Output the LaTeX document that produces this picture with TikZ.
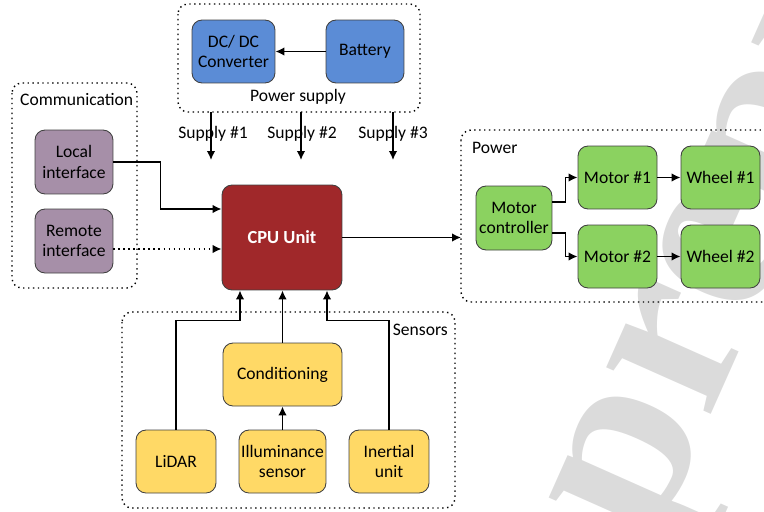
\documentclass[tikz,border=0pt]{standalone}
\usepackage{fontspec}
\setmainfont{Carlito}
\newfontfamily\wmfont{Liberation Serif}
\usetikzlibrary{positioning,calc,arrows.meta}

\definecolor{psblue}{RGB}{91,140,214}
\definecolor{cpured}{RGB}{160,40,42}
\definecolor{compurple}{RGB}{166,143,168}
\definecolor{pwrgreen}{RGB}{139,210,96}
\definecolor{sensyellow}{RGB}{255,217,102}

\tikzset{
  blk/.style={draw=black!75, rounded corners=0.2cm, align=center, inner sep=1pt, line width=0.5pt, minimum height=1.26cm},
  grp/.style={draw, dotted, line width=0.8pt, rounded corners=0.2cm},
  arr/.style={-{Latex[length=1.8mm,width=1.7mm]}, line width=0.85pt},
}

\begin{document}
\begin{tikzpicture}[x=0.02cm, y=-0.02cm, font=\fontsize{10}{11.5}\selectfont]
\useasboundingbox (0,0) rectangle (764,511);
\clip (0,0) rectangle (764,511);

% watermark
\node [anchor=base west, rotate=66, inner sep=0, text=black!14, font=\wmfont\bfseries\fontsize{142}{150}\selectfont] (wm) at (652,548) {preprint};

% groups
\draw [grp] (178,4) rectangle (420,112);
\node (pslbl) at (298,97) {Power supply};
\draw [grp] (12,83) rectangle (137,288);
\node [anchor=west] (comlbl) at (14,99) {Communication};
\draw [grp] (461,130) rectangle (790,302);
\node [anchor=west] (pwrlbl) at (466,148) {Power};
\coordinate (pwrw) at (461,238);
\draw [grp] (122,312) rectangle (455,508);
\node [anchor=east] (senslbl) at (454,330) {Sensors};

% power supply
\node [blk, fill=psblue, minimum width=1.66cm] (conv) at (233.5,51.5) {DC/ DC\\Converter};
\node [blk, fill=psblue, minimum width=1.56cm] (bat) at (365,51.5) {Battery};
\draw [arr] (bat) -- (conv);

\node (sup1) at (213,134) {Supply \#1};
\node (sup2) at (302,134) {Supply \#2};
\node (sup3) at (393,134) {Supply \#3};
\foreach \i/\x in {1/211,2/301,3/393} {
  \coordinate (s\i a) at (\x,112);
  \coordinate (s\i b) at (\x,160);
  \draw [arr] (s\i a) -- (s\i b);
}

% cpu
\node [blk, fill=cpured, text=white, font=\fontsize{10.5}{12}\selectfont\bfseries, minimum width=2.4cm, minimum height=2.1cm] (cpu) at (282,237.5) {CPU Unit};
\coordinate (cpuin1) at ($(cpu.west)+(0,-28.5)$);
\coordinate (cpuin2) at ($(cpu.west)+(0,11.5)$);
\coordinate (cpuinL) at ($(cpu.south)+(-42,0)$);
\coordinate (cpuinR) at ($(cpu.south)+(45,0)$);

% communication
\node [blk, fill=compurple, minimum width=1.56cm, minimum height=1.28cm] (local) at (74,162) {Local\\interface};
\node [blk, fill=compurple, minimum width=1.56cm, minimum height=1.28cm] (remote) at (74,241) {Remote\\interface};
\draw [arr] (local.east) -- ++(47,0) |- (cpuin1);
\draw [arr, dotted] (remote.east |- cpuin2) -- (cpuin2);

% power
\draw [arr] (cpu.east) -- (cpu.east -| pwrw);
\node [blk, fill=pwrgreen, minimum width=1.52cm, minimum height=1.28cm] (ctrl) at (514,218) {Motor\\controller};
\node [blk, fill=pwrgreen, minimum width=1.58cm] (mot1) at (617.5,177.5) {Motor \#1};
\node [blk, fill=pwrgreen, minimum width=1.58cm] (mot2) at (617.5,256.5) {Motor \#2};
\node [blk, fill=pwrgreen, minimum width=1.58cm] (wh1) at (720.5,177.5) {Wheel \#1};
\node [blk, fill=pwrgreen, minimum width=1.58cm] (wh2) at (720.5,256.5) {Wheel \#2};
\draw [arr] ($(ctrl.east)+(0,-16)$) -- ++(13,0) |- (mot1.west);
\draw [arr] ($(ctrl.east)+(0,15)$) -- ++(13,0) |- (mot2.west);
\draw [arr] (mot1) -- (wh1);
\draw [arr] (mot2) -- (wh2);

% sensors
\node [blk, fill=sensyellow, minimum width=2.38cm] (cond) at (282.5,374.5) {Conditioning};
\node [blk, fill=sensyellow, minimum width=1.6cm] (lidar) at (176,461.5) {LiDAR};
\node [blk, fill=sensyellow, minimum width=1.74cm] (illum) at (282.5,461.5) {Illuminance\\sensor};
\node [blk, fill=sensyellow, minimum width=1.6cm] (inert) at (389,461.5) {Inertial\\unit};
\draw [arr] (lidar.north) |- ($(cpuinL)+(0,30)$) -- (cpuinL);
\draw [arr] (inert.north) |- ($(cpuinR)+(0,30)$) -- (cpuinR);
\draw [arr] (cond.north) -- (cond.north |- cpu.south);
\draw [arr] (illum.north) -- (cond.south);
\end{tikzpicture}
\end{document}
